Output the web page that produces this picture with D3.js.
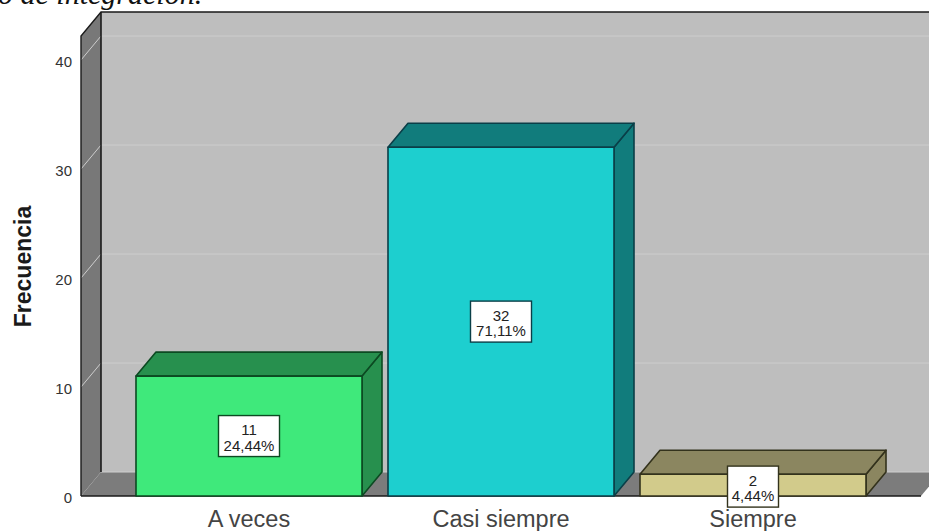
<!DOCTYPE html>
<html><head><meta charset="utf-8">
<script src="https://cdn.jsdelivr.net/npm/d3@7"></script>
<style>html,body{margin:0;padding:0;background:#fff}svg{display:block}text{font-family:"Liberation Sans",Arial,sans-serif}</style>
</head><body><div id="c"></div>
<script>
const categories = ["A veces", "Casi siempre", "Siempre"];
const counts = [11, 32, 2];
const percents = ["24,44%", "71,11%", "4,44%"];
const frontColors = ["#3fe97b", "#1dcfcf", "#d2cb8b"];
const sideColors = ["#27904e", "#117c7c", "#8b8660"];
const edgeColors = ["#0c4a22", "#0a3f48", "#33321c"];
const yTicks = [0, 10, 20, 30, 40];
const axisTop = 42.2;

const W = 929, H = 531, dx = 20, dy = 24;
const svg = d3.select("#c").append("svg").attr("width", W).attr("height", H);
const y = d3.scaleLinear().domain([0, 40]).range([496, 60]);
const x = d3.scaleBand().domain(categories).range([123, 879]).paddingInner(26 / 252).paddingOuter(13 / 252);
const line = d3.line();
const left = 81, right = 921;

// Title fragment, cut by the top edge
svg.append("text").attr("x", -2).attr("y", 4).attr("font-size", 30).attr("font-style", "italic")
  .style("font-family", '"Liberation Serif",serif').attr("fill", "#111").text("o de integración.");

// Back wall
svg.append("rect").attr("x", left + dx).attr("y", y(axisTop) - dy).attr("width", W - left).attr("height", y(0) - y(axisTop))
  .attr("fill", "#bebebe");
// Side wall
svg.append("path").attr("d", line([[left, y(0)], [left, y(axisTop)], [left + dx, y(axisTop) - dy], [left + dx, y(0) - dy]]) + "Z")
  .attr("fill", "#787878");
// Floor
svg.append("path").attr("d", line([[left, y(0)], [left + dx, y(0) - dy], [right + dx, y(0) - dy], [right, y(0)]]) + "Z")
  .attr("fill", "#7c7c7c");
svg.append("line").attr("x1", left + dx).attr("x2", W).attr("y1", y(0) - dy).attr("y2", y(0) - dy).attr("stroke", "#cfcfcf").attr("stroke-width", 1);

// Gridlines
yTicks.filter(t => t > 0).forEach(t => {
  svg.append("path").attr("d", line([[left, y(t)], [left + dx, y(t) - dy], [W, y(t) - dy]]))
    .attr("fill", "none").attr("stroke", "#cdcdcd").attr("stroke-width", 1);
});

// Frame
const frame = "#1a1a1a";
svg.append("path").attr("d", line([[left, y(0)], [left, y(axisTop)], [left + dx, y(axisTop) - dy], [W, y(axisTop) - dy]]))
  .attr("fill", "none").attr("stroke", frame).attr("stroke-width", 1.4);
svg.append("line").attr("x1", left + dx).attr("x2", left + dx).attr("y1", y(axisTop) - dy).attr("y2", y(0) - dy)
  .attr("stroke", frame).attr("stroke-width", 1.6);
svg.append("line").attr("x1", left).attr("x2", right).attr("y1", y(0)).attr("y2", y(0)).attr("stroke", frame).attr("stroke-width", 1.6);

// Bars
const bars = svg.selectAll("g.bar").data(categories).enter().append("g").attr("class", "bar");
bars.each(function (c, i) {
  const g = d3.select(this), x0 = x(c), x1 = x0 + x.bandwidth(), yt = y(counts[i]), yb = y(0);
  const add = (pts, fill) => g.append("path").attr("d", line(pts) + "Z").attr("fill", fill)
    .attr("stroke", edgeColors[i]).attr("stroke-width", 1.6).attr("stroke-linejoin", "round");
  add([[x1, yb], [x1, yt], [x1 + dx, yt - dy], [x1 + dx, yb - dy]], sideColors[i]);
  add([[x0, yt], [x0 + dx, yt - dy], [x1 + dx, yt - dy], [x1, yt]], sideColors[i]);
  add([[x0, yt], [x1, yt], [x1, yb], [x0, yb]], frontColors[i]);
});

// X axis labels (drawn before the value boxes, which sit on top)
const ax = svg.append("g").attr("transform", `translate(0,${y(0)})`)
  .call(d3.axisBottom(x).tickSize(0).tickPadding(14));
ax.select(".domain").remove();
ax.selectAll("text").attr("font-size", 23.5).style("font-family", '"Liberation Sans",Arial,sans-serif').attr("fill", "#444");

// Value labels
const labels = svg.selectAll("g.lab").data(categories).enter().append("g").attr("class", "lab");
labels.each(function (c, i) {
  const g = d3.select(this), cx = x(c) + x.bandwidth() / 2, cy = y(counts[i] / 2) + (i === 2 ? 1.5 : 0);
  const w = percents[i].length > 5 ? 61 : 51, h = 41;
  g.append("rect").attr("x", cx - w / 2).attr("y", cy - h / 2).attr("width", w).attr("height", h)
    .attr("fill", "#fff").attr("stroke", edgeColors[i]).attr("stroke-width", 1.4);
  g.append("text").attr("x", cx).attr("y", cy - 1).attr("text-anchor", "middle").attr("font-size", 15).attr("fill", "#222").text(counts[i]);
  g.append("text").attr("x", cx).attr("y", cy + 14.5).attr("text-anchor", "middle").attr("font-size", 15).attr("fill", "#222").text(percents[i]);
});

// Y axis labels
const ay = svg.append("g").attr("transform", `translate(${left - 9},2)`)
  .call(d3.axisLeft(y).tickValues(yTicks).tickSize(0).tickPadding(0).tickFormat(d3.format("d")));
ay.select(".domain").remove();
ay.selectAll("text").attr("font-size", 15).style("font-family", '"Liberation Sans",Arial,sans-serif').attr("fill", "#333");

// Y title
svg.append("text").attr("transform", "translate(30.5,266.5) rotate(-90)").attr("text-anchor", "middle")
  .attr("font-size", 23).attr("font-weight", "bold").attr("fill", "#1a1a1a").text("Frecuencia");
</script></body></html>
